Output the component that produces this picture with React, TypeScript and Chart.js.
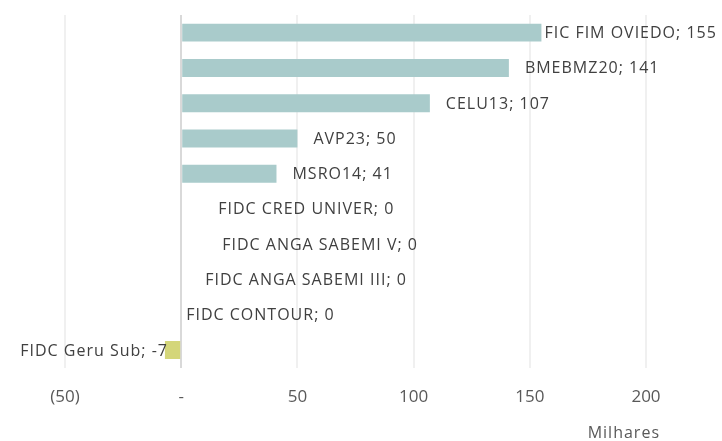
import React, { useEffect, useRef } from "react";
import { Chart, registerables } from "chart.js";

Chart.register(...registerables);

const categories = [
  "FIC FIM OVIEDO",
  "BMEBMZ20",
  "CELU13",
  "AVP23",
  "MSRO14",
  "FIDC CRED UNIVER",
  "FIDC ANGA SABEMI V",
  "FIDC ANGA SABEMI III",
  "FIDC CONTOUR",
  "FIDC Geru Sub",
];
const values = [155, 141, 107, 50, 41, 0, 0, 0, 0, -7];
const tickLabels: Record<number, string> = { [-50]: "(50)", 0: "-", 50: "50", 100: "100", 150: "150", 200: "200" };
const axisTitle = "Milhares";

// label horizontal offsets (style only)
const labelDx = [3, 16, 16, 16, 16, 37, 41, 24, 5, 3];

const FONT = "'Open Sans', sans-serif";

const labelPlugin = {
  id: "barLabels",
  afterDatasetsDraw(chart: any) {
    const ctx = chart.ctx;
    const meta = chart.getDatasetMeta(0);
    const xScale = chart.scales.x;
    ctx.save();
    ctx.font = `16px ${FONT}`;
    (ctx as any).letterSpacing = "1px";
    ctx.fillStyle = "#404040";
    ctx.textBaseline = "middle";
    meta.data.forEach((bar: any, i: number) => {
      const v = values[i];
      const text = `${categories[i]}; ${v}`;
      const end = xScale.getPixelForValue(v);
      ctx.textAlign = v < 0 ? "right" : "left";
      ctx.fillText(text, end + labelDx[i], bar.y + 1);
    });
    // axis unit title
    ctx.fillStyle = "#595959";
    ctx.textAlign = "right";
    ctx.fillText(axisTitle, xScale.right + 14, 433);
    ctx.restore();
  },
};

export default function App() {
  const ref = useRef<HTMLCanvasElement>(null);
  useEffect(() => {
    document.body.style.margin = "0";
    const chart = new Chart(ref.current!, {
      type: "bar",
      data: {
        labels: categories,
        datasets: [
          {
            data: values,
            backgroundColor: values.map((v) => (v < 0 ? "#d4d67a" : "#a9cbcb")),
            borderWidth: 0,
            barPercentage: 0.51,
            categoryPercentage: 1,
          },
        ],
      },
      options: {
        indexAxis: "y",
        animation: false,
        responsive: false,
        maintainAspectRatio: false,
        layout: { padding: { left: 65, right: 76, top: 15, bottom: 15 } },
        plugins: { legend: { display: false }, tooltip: { enabled: false } },
        scales: {
          x: {
            min: -50,
            max: 200,
            border: { display: false },
            grid: {
              drawTicks: false,
              lineWidth: 2,
              color: (c: any) => (c.tick && c.tick.value === 0 ? "#d9d9d9" : "#f0f0f0"),
            },
            ticks: {
              stepSize: 50,
              padding: 19,
              color: "#595959",
              font: { family: FONT, size: 17 },
              callback: (v: any) => tickLabels[v as number] ?? String(v),
            },
          },
          y: {
            display: false,
          },
        },
      },
      plugins: [labelPlugin],
    });
    return () => chart.destroy();
  }, []);
  return (
    <div style={{ width: 722, height: 441 }}>
      <canvas ref={ref} width={722} height={441} style={{ display: "block" }} />
    </div>
  );
}
